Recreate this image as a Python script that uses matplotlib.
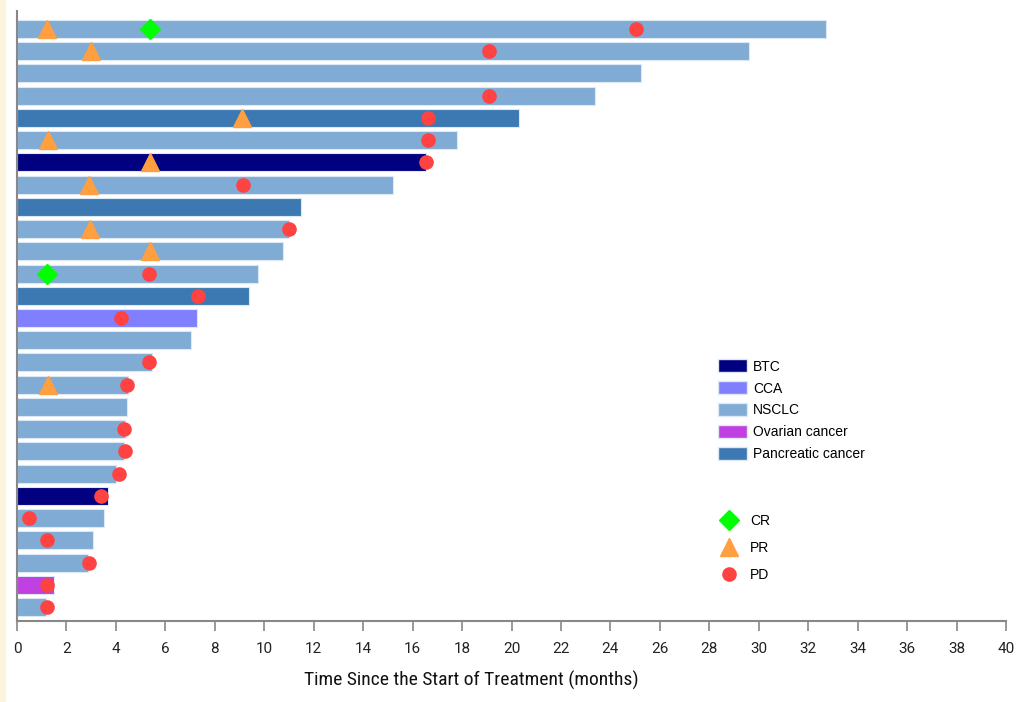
import matplotlib
matplotlib.use("Agg")
import matplotlib.pyplot as plt
from matplotlib.patches import Patch, Rectangle
from matplotlib.lines import Line2D
from matplotlib import font_manager

plt.rcParams['font.family'] = ['Liberation Sans', 'DejaVu Sans']

# Patients listed top to bottom
durations = [32.71, 29.60, 25.24, 23.38, 20.30, 17.80, 16.53, 15.19, 11.50, 10.99,
             10.77, 9.76, 9.37, 7.27, 7.02, 5.47, 4.50, 4.46, 4.37, 4.33,
             4.00, 3.69, 3.53, 3.06, 2.89, 1.50, 1.17]
cancer = ["NSCLC", "NSCLC", "NSCLC", "NSCLC", "Pancreatic cancer", "NSCLC", "BTC", "NSCLC",
          "Pancreatic cancer", "NSCLC", "NSCLC", "NSCLC", "Pancreatic cancer", "CCA", "NSCLC",
          "NSCLC", "NSCLC", "NSCLC", "NSCLC", "NSCLC", "NSCLC", "BTC", "NSCLC", "NSCLC",
          "NSCLC", "Ovarian cancer", "NSCLC"]

# events: (patient row from top, time in months)
cr_rows = [0, 11]
cr_times = [5.38, 1.21]
pr_rows = [0, 1, 4, 5, 6, 7, 9, 10, 16]
pr_times = [1.20, 2.98, 9.11, 1.27, 5.38, 2.92, 2.95, 5.39, 1.27]
pd_rows = [0, 1, 3, 4, 5, 6, 7, 9, 11, 12, 13, 15, 16, 18, 19, 20, 21, 22, 23, 24, 25, 26]
pd_times = [25.05, 19.09, 19.09, 16.64, 16.64, 16.53, 9.15, 10.99, 5.34, 7.31, 4.22, 5.33,
            4.44, 4.33, 4.36, 4.13, 3.40, 0.47, 1.23, 2.92, 1.21, 1.23]

cancer_types = ["BTC", "CCA", "NSCLC", "Ovarian cancer", "Pancreatic cancer"]
cancer_colors = {"BTC": "#000080", "CCA": "#8080FF", "NSCLC": "#80ABD5",
                 "Ovarian cancer": "#C040E2", "Pancreatic cancer": "#3C79B2"}
x_ticks = list(range(0, 41, 2))

available = {f.name for f in font_manager.fontManager.ttflist}
narrow = None
for cand in ["Roboto Condensed", "Liberation Sans Narrow"]:
    if cand in available:
        narrow = cand
        break
if narrow:
    label_family, label_size = [narrow, "DejaVu Sans"], 14
else:
    label_family, label_size = ["Roboto", "Liberation Sans", "DejaVu Sans"], 13

fig = plt.figure(figsize=(10.26, 7.02), dpi=100)
fig.patches.append(Rectangle((0, 0), 0.005, 1, transform=fig.transFigure,
                             color="#FBF3DC", zorder=0))
ax = fig.add_axes([17/1026, 81/702, 989/1026, 610/702])

n = len(durations)
ys = [n - 1 - i for i in range(n)]
ax.barh(ys, durations, height=0.81, color=[cancer_colors[c] for c in cancer],
        edgecolor="#DCE8F4", linewidth=0.8, zorder=2)

def yrow(rows):
    return [n - 1 - r for r in rows]

ax.plot(cr_times, yrow(cr_rows), linestyle="none", marker="D", markersize=10,
        color="#00FF00", zorder=4)
ax.plot(pr_times, yrow(pr_rows), linestyle="none", marker="^", markersize=13,
        color="#FF9F40", zorder=4)
ax.plot(pd_times, yrow(pd_rows), linestyle="none", marker="o", markersize=9.5,
        color="#FF4242", zorder=5)

ax.set_xlim(0, 40)
ax.set_ylim(-0.63, n - 1 + 0.81)
ax.set_xticks(x_ticks)
ax.set_xticklabels([str(t) for t in x_ticks], fontsize=11,
                   family=["Roboto", "Liberation Sans", "DejaVu Sans"])
ax.set_yticks([])
for s in ["top", "right"]:
    ax.spines[s].set_visible(False)
for s in ["left", "bottom"]:
    ax.spines[s].set_color("#888888")
    ax.spines[s].set_linewidth(1.5)
ax.tick_params(axis="x", direction="out", length=7, width=1.2, color="#888888",
               pad=8, labelcolor="#222222")

ax.set_xlabel("Time Since the Start of Treatment (months)", fontsize=label_size,
              family=label_family, color="#111111")
ax.xaxis.set_label_coords(0.459, -0.081)

handles1 = [Patch(facecolor=cancer_colors[c], edgecolor="#DCE8F4", label=c)
            for c in cancer_types]
leg1 = ax.legend(handles=handles1, loc="upper left", bbox_to_anchor=(0.703, 0.438),
                 frameon=False, fontsize=10, handlelength=2.1, handleheight=1.05,
                 handletextpad=0.45, labelspacing=0.56, borderaxespad=0)
ax.add_artist(leg1)
handles2 = [Line2D([], [], linestyle="none", marker="D", markersize=10, color="#00FF00", label="CR"),
            Line2D([], [], linestyle="none", marker="^", markersize=13, color="#FF9F40", label="PR"),
            Line2D([], [], linestyle="none", marker="o", markersize=9.5, color="#FF4242", label="PD")]
ax.legend(handles=handles2, loc="upper left", bbox_to_anchor=(0.700, 0.185),
          frameon=False, fontsize=10, handlelength=2.1, handletextpad=0.45,
          labelspacing=0.94, borderaxespad=0)

fig.savefig("out.png", dpi=100)
